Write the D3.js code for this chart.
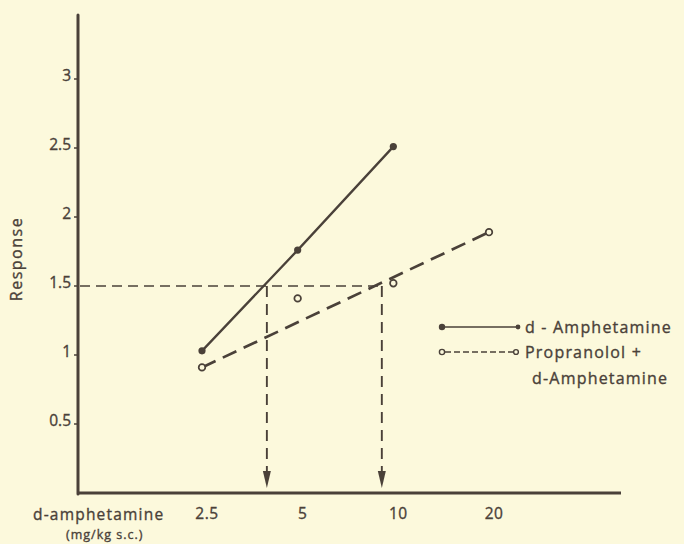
<!DOCTYPE html>
<html>
<head>
<meta charset="utf-8">
<script src="https://cdn.jsdelivr.net/npm/d3@7"></script>
<style>
  html, body { margin: 0; padding: 0; background: #fcf9dc; }
  svg { display: block; }
  text { font-family: "Open Sans", "DejaVu Sans", sans-serif; fill: #4a4139; stroke: #4a4139; stroke-width: 0.35px; }
</style>
</head>
<body>
<svg id="chart" width="684" height="544"></svg>
<script>
// Doses (mg/kg s.c.) on a log axis
const doses = [2.5, 5, 10, 20];
const doseLabels = ["2.5", "5", "10", "20"];

// Responses
const amphetamine = [1.03, 1.76, 2.51];            // d-Amphetamine alone (2.5, 5, 10)
const propranolol = [0.91, 1.41, 1.52, 1.89];      // Propranolol + d-Amphetamine (2.5 – 20)

// Y axis ticks
const yTicks = [0.5, 1, 1.5, 2, 2.5, 3];
const yTickLabels = ["0.5", "1", "1.5", "2", "2.5", "3"];

const refResponse = 1.5;
const refDoses = [4.0, 9.2];

const ink = "#4a4139";
const paper = "#fcf9dc";
const svg = d3.select("#chart");

const x = d3.scaleLog().base(2).domain([2.5, 20]).range([202, 489]);
const y = d3.scaleLinear().domain([0, 3]).range([493, 79]);

const axisX0 = 78, axisX1 = 621, axisTop = 15;

// Axes
svg.append("line")
  .attr("x1", axisX0).attr("x2", axisX0)
  .attr("y1", axisTop).attr("y2", y(0) + 1)
  .attr("stroke", ink).attr("stroke-width", 3).attr("stroke-linecap", "round");
svg.append("line")
  .attr("x1", axisX0).attr("x2", axisX1)
  .attr("y1", y(0)).attr("y2", y(0))
  .attr("stroke", ink).attr("stroke-width", 3);

// Y ticks and labels
const yt = svg.append("g");
yTicks.forEach((v, i) => {
  yt.append("line")
    .attr("x1", axisX0 - 4).attr("x2", axisX0)
    .attr("y1", y(v)).attr("y2", y(v))
    .attr("stroke", ink).attr("stroke-width", 1.5);
  yt.append("text")
    .attr("x", axisX0 - 7).attr("y", y(v) + 2)
    .attr("text-anchor", "end")
    .attr("font-size", 15.5)
    .text(yTickLabels[i]);
});

// X labels
doses.forEach((d, i) => {
  svg.append("text")
    .attr("x", x(d) + 5).attr("y", 519)
    .attr("text-anchor", "middle")
    .attr("font-size", 15.5)
    .style("letter-spacing", "0.5px")
    .text(doseLabels[i]);
});

svg.append("text")
  .attr("x", 33).attr("y", 520)
  .attr("font-size", 15.5)
  .style("letter-spacing", "1.2px")
  .text("d-amphetamine");
svg.append("text")
  .attr("x", 66).attr("y", 539)
  .attr("font-size", 12.5)
  .style("letter-spacing", "1px")
  .text("(mg/kg s.c.)");

svg.append("text")
  .attr("transform", "translate(22,259) rotate(-90)")
  .attr("text-anchor", "middle")
  .attr("font-size", 16)
  .style("letter-spacing", "1.5px")
  .text("Response");

// Equi-effective reference lines
svg.append("line")
  .attr("x1", axisX0 + 2).attr("x2", x(refDoses[1]))
  .attr("y1", y(refResponse)).attr("y2", y(refResponse))
  .attr("stroke", ink).attr("stroke-width", 1.7)
  .attr("stroke-dasharray", "10,6");

refDoses.forEach(d => {
  svg.append("line")
    .attr("x1", x(d)).attr("x2", x(d))
    .attr("y1", y(refResponse)).attr("y2", y(0) - 18)
    .attr("stroke", ink).attr("stroke-width", 1.9)
    .attr("stroke-dasharray", "11,7");
  svg.append("path")
    .attr("d", d3.line()([[x(d) - 4, y(0) - 22], [x(d) + 4, y(0) - 22], [x(d), y(0) - 5]]) + "Z")
    .attr("fill", ink);
});

// d-Amphetamine line
const ampPts = amphetamine.map((v, i) => [x(doses[i]), y(v)]);
svg.append("path")
  .attr("d", d3.line()(ampPts))
  .attr("fill", "none").attr("stroke", ink).attr("stroke-width", 2.3);
svg.selectAll(".amp").data(ampPts).enter().append("circle")
  .attr("cx", d => d[0]).attr("cy", d => d[1]).attr("r", 3.6)
  .attr("fill", ink);

// Propranolol + d-Amphetamine: dashed line from the lowest to the highest dose
const propPts = propranolol.map((v, i) => [x(doses[i]), y(v)]);
svg.append("path")
  .attr("d", d3.line()([propPts[0], propPts[propPts.length - 1]]))
  .attr("fill", "none").attr("stroke", ink).attr("stroke-width", 2.7)
  .attr("stroke-dasharray", "15,8");
svg.selectAll(".prop").data(propPts).enter().append("circle")
  .attr("cx", d => d[0]).attr("cy", d => d[1]).attr("r", 3.3)
  .attr("fill", paper).attr("stroke", ink).attr("stroke-width", 1.7);

// Legend
const lg = svg.append("g");
lg.append("line").attr("x1", 442).attr("x2", 518).attr("y1", 327).attr("y2", 327)
  .attr("stroke", ink).attr("stroke-width", 1.7);
lg.append("circle").attr("cx", 442).attr("cy", 327).attr("r", 3.2).attr("fill", ink);
lg.append("circle").attr("cx", 518).attr("cy", 327).attr("r", 2.4).attr("fill", ink);
lg.append("text").attr("x", 525).attr("y", 333).attr("font-size", 16)
  .style("letter-spacing", "1.2px").text("d - Amphetamine");

lg.append("line").attr("x1", 445).attr("x2", 513).attr("y1", 352).attr("y2", 352)
  .attr("stroke", ink).attr("stroke-width", 1.7).attr("stroke-dasharray", "6,3");
lg.append("circle").attr("cx", 442).attr("cy", 352).attr("r", 2.6)
  .attr("fill", paper).attr("stroke", ink).attr("stroke-width", 1.4);
lg.append("circle").attr("cx", 516).attr("cy", 352).attr("r", 2.4)
  .attr("fill", paper).attr("stroke", ink).attr("stroke-width", 1.4);
lg.append("text").attr("x", 525).attr("y", 358).attr("font-size", 16)
  .style("letter-spacing", "1.2px").text("Propranolol +");
lg.append("text").attr("x", 532).attr("y", 384).attr("font-size", 16)
  .style("letter-spacing", "1.2px").text("d-Amphetamine");
</script>
</body>
</html>
